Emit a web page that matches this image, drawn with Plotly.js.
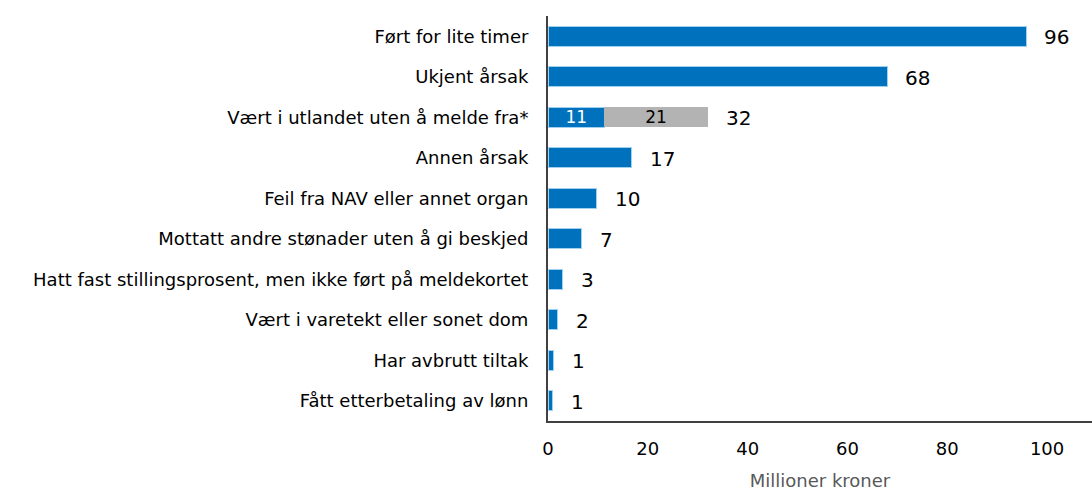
<!DOCTYPE html>
<html>
<head>
<meta charset="utf-8">
<script src="https://cdn.plot.ly/plotly-3.0.1.min.js"></script>
<style>html,body{margin:0;padding:0;background:#fff}#plot{width:1092px;height:492px}</style>
</head>
<body>
<div id="plot"></div>
<script>
var categories = [
  "Ført for lite timer",
  "Ukjent årsak",
  "Vært i utlandet uten å melde fra*",
  "Annen årsak",
  "Feil fra NAV eller annet organ",
  "Mottatt andre stønader uten å gi beskjed",
  "Hatt fast stillingsprosent, men ikke ført på meldekortet",
  "Vært i varetekt eller sonet dom",
  "Har avbrutt tiltak",
  "Fått etterbetaling av lønn"
];
var blueValues = [95.8, 68, 11.3, 16.8, 9.8, 6.8, 3, 2, 1.2, 1];
var greyValues = [0, 0, 20.7, 0, 0, 0, 0, 0, 0, 0];
var totalLabels = ["96", "68", "32", "17", "10", "7", "3", "2", "1", "1"];
var blueInside = ["", "", "11", "", "", "", "", "", "", ""];
var greyInside = ["", "", "21", "", "", "", "", "", "", ""];

var font = "'DejaVu Sans', sans-serif";

var trace1 = {
  type: "bar",
  orientation: "h",
  y: categories,
  x: blueValues,
  width: 0.5,
  marker: {color: "#0071BC", line: {color: "#9fd0ef", width: 1}},
  text: blueInside,
  textposition: "inside",
  insidetextanchor: "middle",
  textangle: 0,
  constraintext: "none",
  textfont: {color: "#ffffff", size: 17, family: font},
  hoverinfo: "none"
};
var trace2 = {
  type: "bar",
  orientation: "h",
  y: categories,
  x: greyValues,
  width: 0.5,
  marker: {color: "#B3B3B3"},
  text: greyInside,
  textposition: "inside",
  insidetextanchor: "middle",
  textangle: 0,
  constraintext: "none",
  textfont: {color: "#000000", size: 17, family: font},
  hoverinfo: "none"
};

var annotations = categories.map(function (c, i) {
  return {
    x: blueValues[i] + greyValues[i],
    y: c,
    text: totalLabels[i],
    showarrow: false,
    xanchor: "left",
    xshift: 16,
    yshift: -1,
    font: {size: 20, color: "#000", family: font}
  };
});

var layout = {
  barmode: "stack",
  showlegend: false,
  margin: {l: 548, r: 0, t: 16, b: 71},
  paper_bgcolor: "#fff",
  plot_bgcolor: "#fff",
  font: {family: font, color: "#000"},
  xaxis: {
    range: [0, 109],
    tickvals: [0, 20, 40, 60, 80, 100],
    showgrid: false,
    zeroline: false,
    showline: true,
    linecolor: "#404040",
    linewidth: 2,
    ticks: "",
    ticklabelstandoff: 10,
    tickfont: {size: 18, color: "#000"},
    title: {text: "Millioner kroner", font: {size: 18, color: "#595959"}, standoff: 17}
  },
  yaxis: {
    categoryorder: "array",
    categoryarray: categories,
    range: [9.5, -0.5],
    showgrid: false,
    zeroline: false,
    showline: true,
    linecolor: "#404040",
    linewidth: 2,
    ticks: "",
    ticklabelstandoff: 14,
    tickfont: {size: 18, color: "#000"}
  },
  annotations: annotations
};

Plotly.newPlot("plot", [trace1, trace2], layout, {displayModeBar: false, staticPlot: true});
</script>
</body>
</html>
